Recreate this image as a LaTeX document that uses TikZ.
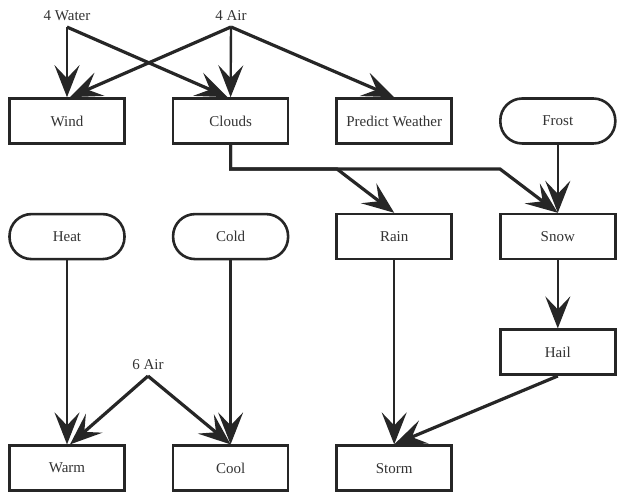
\documentclass[tikz,border=0pt]{standalone}
\usepackage{fontspec}
\setmainfont{Liberation Serif}
\usetikzlibrary{arrows.meta, positioning}

\begin{document}
\begin{tikzpicture}[x=1pt, y=-1pt, node distance=68pt and 46pt,
  every node/.style={font=\fontsize{15}{18}\selectfont, text=black!80},
  box/.style={draw=black!85, line width=2.6pt, rectangle, minimum width=115pt, minimum height=45pt, fill=white},
  pill/.style={box, rounded corners=22pt},
  tag/.style={inner sep=1pt, outer ysep=5pt},
  link/.style={draw=black!85, line width=2.4pt, -{Stealth[length=32pt, width=25pt, inset=13pt]}},
  slant/.style={link, line width=3.2pt}]
  \useasboundingbox (0,0) rectangle (618,502);

  \node (wind) [box] at (67,121) {Wind};
  \node (clouds) [box, right=of wind] {Clouds};
  \node (predict) [box, right=of clouds] {Predict Weather};
  \node (frost) [pill, right=of predict] {Frost};

  \node (heat) [pill, below=of wind] {Heat};
  \node (cold) [pill, below=of clouds] {Cold};
  \node (rain) [box, below=of predict] {Rain};
  \node (snow) [box, below=of frost] {Snow};

  \node (hail) [box, below=of snow] {Hail};

  \node (warm) [box, below=184pt of heat] {Warm};
  \node (cool) [box, below=184pt of cold] {Cool};
  \node (storm) [box, below=184pt of rain] {Storm};

  \node (water4) [tag] at (67,16) {4 Water};
  \node (air4) [tag] at (231,16) {4 Air};
  \node (air6) [tag] at (148,365) {6 Air};

  \coordinate (rbend) at (337,169);
  \coordinate (sbend) at (500,169);

  \draw [link] (water4.south) -- (wind.north);
  \draw [slant] (water4.south) -- ([xshift=-3pt]clouds.north);
  \draw [slant] (air4.south) -- ([xshift=3pt]wind.north);
  \draw [link] (air4.south) -- (clouds.north);
  \draw [slant] (air4.south) -- (predict.north);

  \draw [slant] (clouds.south) |- (rbend) -- (rain.north);
  \draw [slant] (clouds.south) |- (sbend) -- (snow.north);
  \draw [link] (frost) -- (snow);
  \draw [link] (snow) -- (hail);
  \draw [slant] (hail.south) -- (storm.north);
  \draw [link] (rain) -- (storm);

  \draw [link] (heat) -- (warm);
  \draw [link] (cold) -- (cool);
  \draw [slant] (air6.south) -- ([xshift=3pt]warm.north);
  \draw [slant] (air6.south) -- (cool.north);
\end{tikzpicture}
\end{document}
